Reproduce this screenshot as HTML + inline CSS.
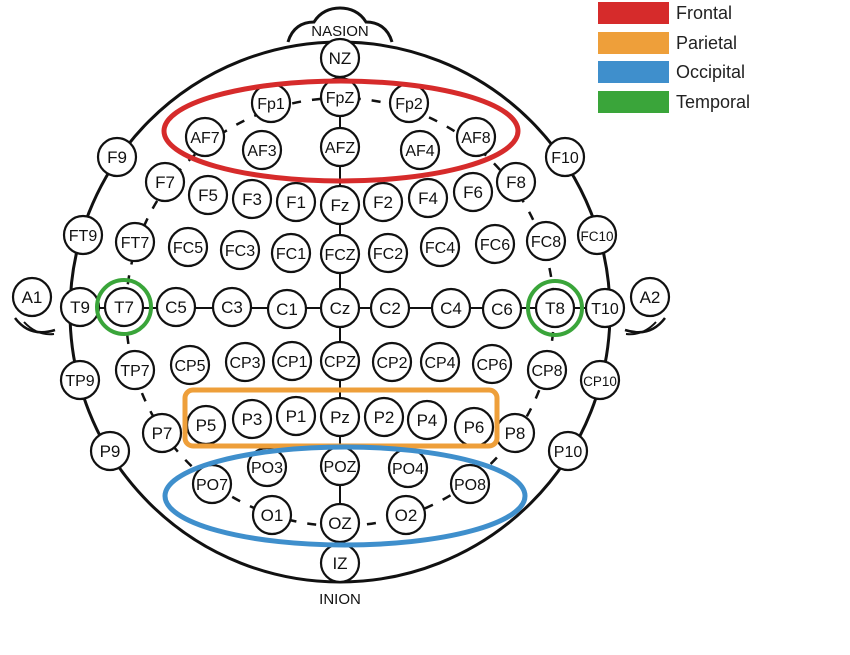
<!DOCTYPE html>
<html><head><meta charset="utf-8"><style>
body{margin:0;background:#fff;width:850px;height:655px;overflow:hidden}
svg{display:block}
text{font-family:"Liberation Sans",sans-serif}
</style></head><body>
<svg id="map" width="850" height="655" viewBox="0 0 850 655">
<g fill="none" stroke="#111" stroke-width="3">
<path d="M288,42 C292,28 302,22 314,22 C320,12 330,8 340,8 C350,8 360,12 366,22 C378,22 388,28 392,42" fill="#fff"/>
<circle cx="340" cy="312" r="270"/>
<circle cx="340" cy="312" r="214" stroke-width="2.5" stroke-dasharray="9 11"/>
<line x1="80" y1="308" x2="605" y2="308" stroke-width="2"/>
<line x1="340" y1="42" x2="340" y2="563" stroke-width="2"/>
<path d="M15,318 Q30,338 55,330" stroke-width="2.5"/>
<path d="M24,322 Q37,336 54,334" stroke-width="2"/>
<path d="M665,318 Q650,338 625,330" stroke-width="2.5"/>
<path d="M656,322 Q643,336 626,334" stroke-width="2"/>
</g>
<text x="340" y="36" text-anchor="middle" font-size="15" fill="#111">NASION</text>
<text x="340" y="604" text-anchor="middle" font-size="15" fill="#111">INION</text>
<g id="elec"></g>
<g fill="none">
<ellipse cx="341" cy="131" rx="177" ry="50" stroke="#d62b2b" stroke-width="5"/>
<rect x="185" y="390" width="312" height="56" rx="8" stroke="#ee9f3a" stroke-width="5"/>
<ellipse cx="345" cy="496" rx="180" ry="49" stroke="#3f8fcc" stroke-width="5"/>
<circle cx="124" cy="307" r="27" stroke="#3aa53a" stroke-width="4"/>
<circle cx="555" cy="308" r="27" stroke="#3aa53a" stroke-width="4"/>
</g>
<g font-size="18" fill="#222">
<rect x="598" y="2" width="71" height="22" fill="#d62b2b"/>
<text x="676" y="19">Frontal</text>
<rect x="598" y="32" width="71" height="22" fill="#ee9f3a"/>
<text x="676" y="49">Parietal</text>
<rect x="598" y="61" width="71" height="22" fill="#3f8fcc"/>
<text x="676" y="78">Occipital</text>
<rect x="598" y="91" width="71" height="22" fill="#3aa53a"/>
<text x="676" y="108">Temporal</text>
</g>
</svg>
<script>
const names=["NZ","Fp1","FpZ","Fp2","AF7","AF3","AFZ","AF4","AF8",
"F9","F7","F5","F3","F1","Fz","F2","F4","F6","F8","F10",
"FT9","FT7","FC5","FC3","FC1","FCZ","FC2","FC4","FC6","FC8","FC10",
"A1","T9","T7","C5","C3","C1","Cz","C2","C4","C6","T8","T10","A2",
"TP9","TP7","CP5","CP3","CP1","CPZ","CP2","CP4","CP6","CP8","CP10",
"P9","P7","P5","P3","P1","Pz","P2","P4","P6","P8","P10",
"PO7","PO3","POZ","PO4","PO8","O1","OZ","O2","IZ"];
const xs=[340,271,340,409,205,262,340,420,476,
117,165,208,252,296,340,383,428,473,516,565,
83,135,188,240,291,340,388,440,495,546,597,
32,80,124,176,232,287,340,390,451,502,555,605,650,
80,135,190,245,292,340,392,440,492,547,600,
110,162,206,252,296,340,384,427,474,515,568,
212,267,340,408,470,272,340,406,340];
const ys=[58,103,97,103,137,150,147,150,137,
157,182,195,199,202,205,202,198,192,182,157,
235,242,247,250,253,254,253,247,244,241,235,
297,307,307,307,307,309,308,308,308,309,308,308,297,
380,370,365,362,361,361,362,362,364,370,380,
451,433,425,419,416,417,417,420,427,433,451,
484,467,466,468,484,515,523,515,563];
const g=document.getElementById('elec');
const NS='http://www.w3.org/2000/svg';
names.forEach((n,i)=>{
 const grp=document.createElementNS(NS,'g');
 
 
 const c=document.createElementNS(NS,'circle');
 c.setAttribute('cx',xs[i]);c.setAttribute('cy',ys[i]);c.setAttribute('r',19);
 c.setAttribute('fill','#fff');c.setAttribute('stroke','#111');c.setAttribute('stroke-width','2.2');
 const t=document.createElementNS(NS,'text');
 t.setAttribute('x',xs[i]);t.setAttribute('y',ys[i]+6);
 t.setAttribute('text-anchor','middle');
 t.setAttribute('font-size',n.length>3?13.5:(n.length>2?16:17));
 t.setAttribute('fill','#111');
 t.textContent=n;
 grp.appendChild(c);grp.appendChild(t);g.appendChild(grp);
});
</script>
</body></html>
